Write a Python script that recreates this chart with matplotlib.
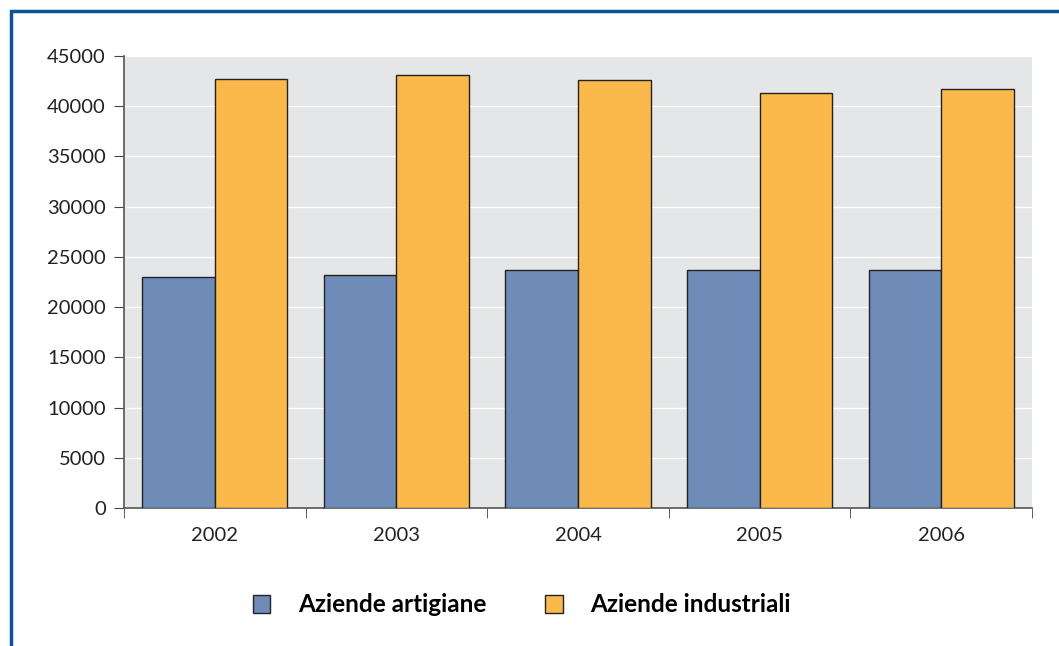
import matplotlib.pyplot as plt
import numpy as np
from matplotlib.patches import Rectangle

years = ["2002", "2003", "2004", "2005", "2006"]
artigiane = [22950, 23150, 23650, 23650, 23650]
industriali = [42700, 43100, 42600, 41300, 41700]
series_labels = ["Aziende artigiane", "Aziende industriali"]

plt.rcParams["font.family"] = ["Lato", "DejaVu Sans"]

fig = plt.figure(figsize=(10.59, 6.46), dpi=100)
ax = fig.add_axes([124 / 1059, 1 - 508 / 646, (1032 - 124) / 1059, (508 - 56) / 646])

x = np.arange(len(years))
width = 0.4
ax.bar(x - width / 2, artigiane, width=width, color="#6f8cb8", edgecolor="#222222", linewidth=1, label=series_labels[0], zorder=3)
ax.bar(x + width / 2, industriali, width=width, color="#fbb94c", edgecolor="#222222", linewidth=1, label=series_labels[1], zorder=3)

ax.set_facecolor("#e5e6e8")
ax.set_xlim(-0.5, len(years) - 0.5)
ax.set_ylim(0, 45000)
ax.set_yticks(range(0, 45001, 5000))
ax.tick_params(axis="y", labelsize=14.5, length=7, color="#444444", labelcolor="#222222", pad=6)
ax.set_xticks(x, years)
ax.set_xticks(np.arange(-0.5, len(years), 1), minor=True)
ax.tick_params(axis="x", which="major", length=0, labelsize=14.5, labelcolor="#222222", pad=14)
ax.tick_params(axis="x", which="minor", length=7, color="#444444")
ax.grid(axis="y", color="white", linewidth=1, zorder=0)
for side in ["top", "right"]:
    ax.spines[side].set_visible(False)
for side in ["left", "bottom"]:
    ax.spines[side].set_color("#555555")
    ax.spines[side].set_linewidth(1.2)

fig.legend(loc="center", bbox_to_anchor=(522 / 1059, 1 - 605 / 646), ncol=2, frameon=False,
           handlelength=0.72, handleheight=0.72, handletextpad=1.15, columnspacing=2.4,
           prop={"size": 17.5, "weight": "bold"})

# blue frame around the figure (top and left visible)
fig.add_artist(Rectangle((11 / 1059, -0.05), 1.2, 1 - 11 / 646 + 0.05, transform=fig.transFigure,
                         fill=False, edgecolor="#0a5494", linewidth=2.5))

fig.savefig("out.png", dpi=100)
